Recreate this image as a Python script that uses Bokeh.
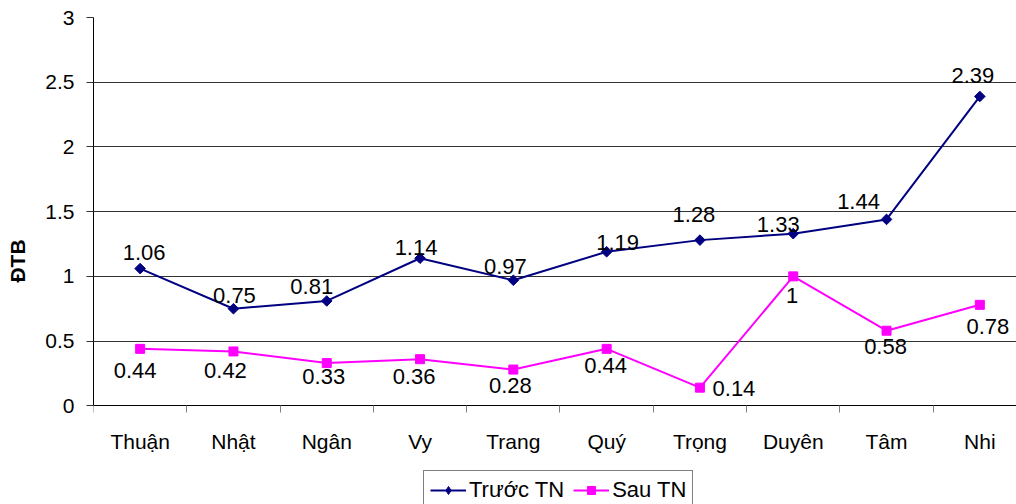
import math
from bokeh.plotting import figure
from bokeh.models import (Range1d, FixedTicker, Legend, LegendItem, ColumnDataSource,
                          NumeralTickFormatter, CustomJSTickFormatter)
from bokeh.core.properties import value
from bokeh.embed import file_html
from bokeh.resources import INLINE

# Students and their average scores before / after
names = ["Thuận", "Nhật", "Ngân", "Vy", "Trang", "Quý", "Trọng", "Duyên", "Tâm", "Nhi"]
truoc_tn = [1.06, 0.75, 0.81, 1.14, 0.97, 1.19, 1.28, 1.33, 1.44, 2.39]
sau_tn = [0.44, 0.42, 0.33, 0.36, 0.28, 0.44, 0.14, 1, 0.58, 0.78]
y_ticks = [0, 0.5, 1, 1.5, 2, 2.5, 3]

# Per-point label nudges (screen pixels) so labels don't collide
truoc_dx = [4, 1, -15, -4, -8, 11, -6, -15, -28, -7]
truoc_dy = [-16, -13, -14, -11, -14, -9, -26, -9, -18, -21]
sau_dx = [-5, -8, -3, -6, -3, -1, 34, -1, -1, 8]
sau_dy = [22, 19, 13, 17, 16, 17, 1, 19, 16, 22]

FONT = "Liberation Sans"
NAVY = "#000080"
MAGENTA = "#FF00FF"

xs = [i + 0.5 for i in range(len(names))]
src = ColumnDataSource(dict(
    x=xs, truoc=truoc_tn, sau=sau_tn,
    truoc_lbl=[f"{v:g}" for v in truoc_tn], sau_lbl=[f"{v:g}" for v in sau_tn],
    tdx=truoc_dx, tdy=truoc_dy, sdx=sau_dx, sdy=sau_dy,
))

# The frame runs to the bottom edge; the category axis sits at y = 0 and the
# space underneath holds the category labels and the legend.
p = figure(width=1016, height=504, output_backend="svg", toolbar_location=None,
           x_range=Range1d(0, 9.893), y_range=Range1d(-0.7626, 3),
           min_border_left=93, min_border_right=0, min_border_top=17, min_border_bottom=0)
p.outline_line_color = None
p.background_fill_color = "white"
p.border_fill_color = "white"

# grid
p.xgrid.visible = False
p.ygrid.grid_line_color = "#333333"
p.ygrid.grid_line_width = 1

# y axis
p.yaxis.ticker = FixedTicker(ticks=y_ticks)
p.yaxis.bounds = (0, 3)
p.yaxis.formatter = NumeralTickFormatter(format="0.[0]")
p.yaxis.major_tick_out = 7
p.yaxis.major_tick_in = 0
p.yaxis.minor_tick_out = 0
p.yaxis.minor_tick_in = 0
p.yaxis.major_tick_line_color = "#333333"
p.yaxis.axis_line_color = "black"
p.yaxis.major_label_standoff = 12
p.yaxis.major_label_text_font = FONT
p.yaxis.major_label_text_font_size = "21px"
p.yaxis.major_label_text_color = "black"
p.yaxis.axis_label = "ĐTB"
p.yaxis.axis_label_text_font = FONT
p.yaxis.axis_label_text_font_size = "21px"
p.yaxis.axis_label_text_font_style = "bold"
p.yaxis.axis_label_text_color = "black"
p.yaxis.axis_label_standoff = 13

# x axis pinned at y = 0: labels at category centers, tick marks at boundaries
p.xaxis.fixed_location = 0
p.xaxis.ticker = FixedTicker(ticks=xs, minor_ticks=list(range(len(names))))
p.xaxis.formatter = CustomJSTickFormatter(args=dict(names=names),
                                          code="return names[Math.floor(tick)] || '';")
p.xaxis.major_tick_out = 0
p.xaxis.major_tick_in = 0
p.xaxis.minor_tick_out = 7
p.xaxis.minor_tick_in = 0
p.xaxis.minor_tick_line_color = "#808080"
p.xaxis.axis_line_color = "black"
p.xaxis.major_label_standoff = 17
p.xaxis.major_label_text_font = FONT
p.xaxis.major_label_text_font_size = "21px"
p.xaxis.major_label_text_color = "black"

# series
l1 = p.line("x", "truoc", source=src, line_color=NAVY, line_width=2)
m1 = p.scatter("x", "truoc", source=src, marker="square", size=7.5, angle=math.pi / 4,
               fill_color=NAVY, line_color=NAVY)
l2 = p.line("x", "sau", source=src, line_color=MAGENTA, line_width=2)
m2 = p.scatter("x", "sau", source=src, marker="square", size=9,
               fill_color=MAGENTA, line_color=MAGENTA)

# hidden diamond renderer that only supplies the legend swatch
# (legend glyphs do not apply the marker angle)
key1 = p.scatter("x", "truoc", source=src, marker="diamond", size=12,
                 fill_color=NAVY, line_color=NAVY, visible=False)

# value labels
p.text("x", "truoc", text="truoc_lbl", source=src, x_offset="tdx", y_offset="tdy",
       text_align="center", text_baseline="middle", text_font=value(FONT),
       text_font_size="22px", text_color="black")
p.text("x", "sau", text="sau_lbl", source=src, x_offset="sdx", y_offset="sdy",
       text_align="center", text_baseline="middle", text_font=value(FONT),
       text_font_size="22px", text_color="black")

legend = Legend(items=[LegendItem(label="Trước TN", renderers=[l1, key1]),
                       LegendItem(label="Sau TN", renderers=[l2, m2])],
                orientation="horizontal", location=(330, -6))
legend.label_text_font = FONT
legend.label_text_font_size = "22px"
legend.label_text_color = "black"
legend.border_line_color = "black"
legend.border_line_width = 1
legend.background_fill_color = "white"
legend.background_fill_alpha = 1
legend.glyph_width = 36
legend.glyph_height = 20
legend.label_standoff = 3
legend.spacing = 9
legend.padding = 6
legend.margin = 0
p.add_layout(legend, "center")

open("out.html", "w").write(file_html(p, INLINE))
